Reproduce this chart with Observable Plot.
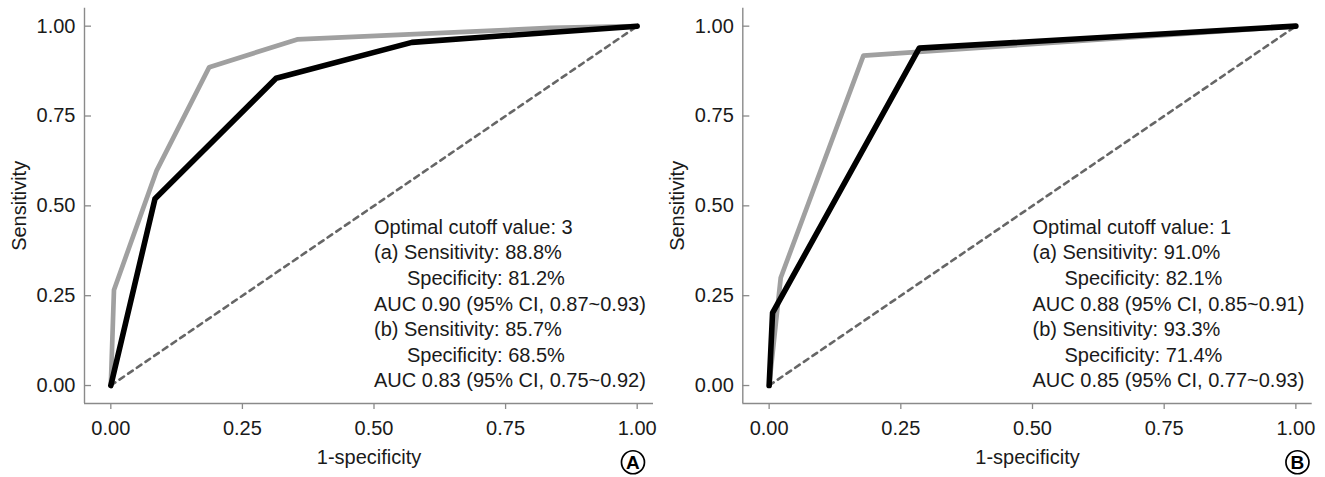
<!DOCTYPE html>
<html>
<head>
<meta charset="utf-8">
<script src="https://cdn.jsdelivr.net/npm/d3@7"></script>
<script src="https://cdn.jsdelivr.net/npm/@observablehq/plot@0.6"></script>
<style>
  html, body { margin: 0; padding: 0; background: #fff; }
  #wrap { display: flex; flex-direction: row; width: 1325px; height: 477px; }
  #wrap svg { display: block; }
</style>
</head>
<body>
<div id="wrap"></div>
<script>
// ---- data ----
const tickValues = [0, 0.25, 0.5, 0.75, 1];
const xLabel = "1-specificity";
const yLabel = "Sensitivity";

// Panel A
const aGrayFpr  = [0, 0.006, 0.087, 0.187, 0.354, 0.835, 1];
const aGrayTpr  = [0, 0.266, 0.598, 0.886, 0.963, 0.995, 1];
const aBlackFpr = [0, 0.084, 0.314, 0.572, 1];
const aBlackTpr = [0, 0.52, 0.855, 0.955, 1];
const aLines = [
  "Optimal cutoff value: 3",
  "(a) Sensitivity: 88.8%",
  "Specificity: 81.2%",
  "AUC 0.90 (95% CI, 0.87~0.93)",
  "(b) Sensitivity: 85.7%",
  "Specificity: 68.5%",
  "AUC 0.83 (95% CI, 0.75~0.92)"
];
// Panel B
const bGrayFpr  = [0, 0.022, 0.179, 1];
const bGrayTpr  = [0, 0.30, 0.918, 1];
const bBlackFpr = [0, 0.0065, 0.285, 1];
const bBlackTpr = [0, 0.202, 0.939, 1];
const bLines = [
  "Optimal cutoff value: 1",
  "(a) Sensitivity: 91.0%",
  "Specificity: 82.1%",
  "AUC 0.88 (95% CI, 0.85~0.91)",
  "(b) Sensitivity: 93.3%",
  "Specificity: 71.4%",
  "AUC 0.85 (95% CI, 0.77~0.93)"
];
const indented = [false, false, true, false, false, true, false];
const diagFpr = [0, 1];
const diagTpr = [0, 1];

const toPts = (xs, ys) => xs.map((x, i) => ({x, y: ys[i]}));
const fmt = d => d.toFixed(2);
const FONT = "'Liberation Sans', Arial, Helvetica, sans-serif";

function panel({width, marginLeft, marginRight, gray, black, lines, letter, badgeX, indentDx}) {
  const main = lines.map((l, i) => indented[i] ? "" : l).join("\n");
  const ind = lines.map((l, i) => indented[i] ? l : "").join("\n");
  return Plot.plot({
    width, height: 477,
    marginLeft, marginRight, marginTop: 7.7, marginBottom: 74,
    style: {fontFamily: FONT, fontSize: "20px", color: "#1a1a1a", background: "#fff", overflow: "visible"},
    x: {domain: [-0.05, 1.031]},
    y: {domain: [-0.05, 1.05]},
    marks: [
      Plot.axisX({ticks: tickValues, tickFormat: fmt, tickSize: 6, tickPadding: 11, stroke: "#8a8a8a", strokeWidth: 1.3, fill: "#1a1a1a", label: null, fontSize: 20}),
      Plot.axisY({ticks: tickValues, tickFormat: fmt, tickSize: -7, tickPadding: 16, stroke: "#8a8a8a", strokeWidth: 1.3, fill: "#1a1a1a", label: null, fontSize: 20}),
      Plot.ruleX([-0.05], {stroke: "#8a8a8a", strokeWidth: 1.4}),
      Plot.ruleY([-0.05], {stroke: "#8a8a8a", strokeWidth: 1.4}),
      Plot.line(toPts(diagFpr, diagTpr), {x: "x", y: "y", stroke: "#666", strokeWidth: 2.6, strokeDasharray: "5.5,5"}),
      Plot.line(gray, {x: "x", y: "y", stroke: "#a0a0a0", strokeWidth: 4.7, strokeLinejoin: "round", strokeLinecap: "round"}),
      Plot.line(black, {x: "x", y: "y", stroke: "#000", strokeWidth: 5.6, strokeLinejoin: "round", strokeLinecap: "round"}),
      Plot.text([main], {x: 0.5, y: -0.005, text: d => d, textAnchor: "start", lineAnchor: "bottom", lineHeight: 1.28, fontSize: 20, fill: "#1a1a1a"}),
      Plot.text([ind], {x: 0.5, y: -0.005, dx: indentDx, text: d => d, textAnchor: "start", lineAnchor: "bottom", lineHeight: 1.28, fontSize: 20, fill: "#1a1a1a"}),
      Plot.text([yLabel], {frameAnchor: "left", dx: -65.4, rotate: -90, text: d => d, lineAnchor: "middle", textAnchor: "middle", fontSize: 20, fill: "#1a1a1a"}),
      Plot.text([xLabel], {frameAnchor: "bottom", dy: 53.6, text: d => d, lineAnchor: "middle", textAnchor: "middle", fontSize: 20, fill: "#1a1a1a"}),
      Plot.dot([{x: badgeX, y: -0.2135}], {x: "x", y: "y", r: 11.5, stroke: "#000", strokeWidth: 1.7, fill: "#fff"}),
      Plot.text([{x: badgeX, y: -0.2135, t: letter}], {x: "x", y: "y", text: "t", fontWeight: "bold", fontSize: 19, fill: "#000", lineAnchor: "middle", textAnchor: "middle", dy: 0.5})
    ]
  });
}

const wrap = document.getElementById("wrap");
wrap.appendChild(panel({width: 662, marginLeft: 84, marginRight: 9, gray: toPts(aGrayFpr, aGrayTpr), black: toPts(aBlackFpr, aBlackTpr), lines: aLines, letter: "A", badgeX: 0.992, indentDx: 33}));
wrap.appendChild(panel({width: 663, marginLeft: 80.3, marginRight: 13.3, gray: toPts(bGrayFpr, bGrayTpr), black: toPts(bBlackFpr, bBlackTpr), lines: bLines, letter: "B", badgeX: 1.003, indentDx: 32}));
</script>
</body>
</html>
